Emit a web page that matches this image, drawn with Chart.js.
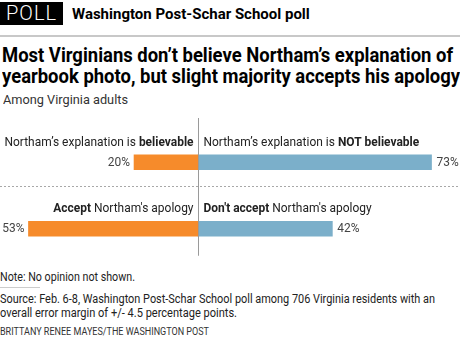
<!DOCTYPE html>
<html>
<head>
<meta charset="utf-8">
<script src="https://cdn.jsdelivr.net/npm/chart.js@4"></script>
<style>
  body { margin: 0; width: 460px; height: 338px; background: #fff; font-family: Roboto, sans-serif; color: #222; position: relative; overflow: hidden; }
  .abs { position: absolute; white-space: nowrap; }
  .line { display: block; transform-origin: 0 50%; width: max-content; }
  #poll { left: 0; top: 2px; width: 63px; height: 23px; background: #000; color: #fff; font-size: 20px; font-weight: 300; line-height: 23px; text-align: center; letter-spacing: 1px; }
  #kicker { left: 72px; top: 4px; font-size: 15px; font-weight: 700; color: #000; line-height: 20px; }
  #rule { left: 0; top: 35px; width: 460px; height: 2px; background: #c8c8c8; }
  #title { left: 2px; top: 45px; font-size: 20px; font-weight: 700; line-height: 21px; color: #000; }
  #sub { left: 3px; top: 90px; font-size: 13.5px; line-height: 18px; color: #333; }
  #chartBox { left: 0; top: 115px; width: 460px; height: 148px; }
  #note { left: 0; top: 269px; font-size: 12.5px; line-height: 16px; }
  #noteRule { left: 0; top: 287px; width: 40px; height: 1px; background: #ccc; }
  #source { left: 0; top: 292px; font-size: 12.5px; line-height: 14px; }
  #credit { left: 0; top: 325.5px; font-size: 10px; line-height: 12px; color: #333; }
</style>
</head>
<body>
<div class="abs" id="poll">POLL</div>
<div class="abs" id="kicker">Washington Post-Schar School poll</div>
<div class="abs" id="rule"></div>
<div class="abs" id="title"><span class="line" data-w="451">Most Virginians don’t believe Northam’s explanation of</span><span class="line" data-w="458">yearbook photo, but slight majority accepts his apology</span></div>
<div class="abs" id="sub"><span class="line" data-w="125">Among Virginia adults</span></div>
<div class="abs" id="chartBox"><canvas id="chart" width="460" height="148"></canvas></div>
<div class="abs" id="note"><span class="line" data-w="135">Note: No opinion not shown.</span></div>
<div class="abs" id="noteRule"></div>
<div class="abs" id="source"><span class="line" data-w="435">Source: Feb. 6-8, Washington Post-Schar School poll among 706 Virginia residents with an</span><span class="line" data-w="237">overall error margin of +/- 4.5 percentage points.</span></div>
<div class="abs" id="credit"><span class="line" data-w="209">BRITTANY RENEE MAYES/THE WASHINGTON POST</span></div>

<script>
// ==========================================
// DATA
// ==========================================

const questions = ['explanation', 'apology'];
const agreeValues = [20, 53];
const disagreeValues = [73, 42];

// label pieces: [text, bold?]
const agreeLabels = [
    [['Northam’s explanation is ', false], ['believable', true]],
    [['Accept', true], [' Northam\'s apology', false]]
];
const disagreeLabels = [
    [['Northam’s explanation is ', false], ['NOT believable', true]],
    [['Don\'t accept', true], [' Northam\'s apology', false]]
];

const xMin = -61.9;
const xMax = 81.9;

const ORANGE = '#F68B2B';
const BLUE = '#7BAFCA';
const FONT = 'Roboto, sans-serif';
const SQUEEZE = 0.92; // the original face is narrower than Roboto

// squeeze html text lines to the widths of the original face
document.querySelectorAll('.line[data-w]').forEach(el => {
    const w = el.getBoundingClientRect().width;
    el.style.transform = 'scaleX(' + (el.dataset.w / w) + ')';
});

// ==========================================
// LABEL PLUGIN
// ==========================================

const drawPieces = (ctx, pieces, x, y, align) => {
    const fonts = pieces.map(p => (p[1] ? 'bold ' : '') + '13px ' + FONT);
    const widths = pieces.map((p, i) => { ctx.font = fonts[i]; return ctx.measureText(p[0]).width; });
    const total = widths.reduce((a, b) => a + b, 0);
    ctx.save();
    ctx.translate(x, y);
    ctx.scale(SQUEEZE, 1);
    let cx = align === 'right' ? -total : 0;
    ctx.textAlign = 'left';
    pieces.forEach((p, i) => {
        ctx.font = fonts[i];
        ctx.fillText(p[0], cx, 0);
        cx += widths[i];
    });
    ctx.restore();
};

const labelPlugin = {
    id: 'labels',
    afterDatasetsDraw(chart) {
        const ctx = chart.ctx;
        const xs = chart.scales.x;
        const ys = chart.scales.y;
        const zero = Math.round(xs.getPixelForValue(0)) + 0.5;
        ctx.save();

        // center axis line
        ctx.strokeStyle = '#9a9a9a';
        ctx.lineWidth = 1;
        ctx.beginPath();
        ctx.moveTo(zero, 3);
        ctx.lineTo(zero, ys.getPixelForValue(1) + 27);
        ctx.stroke();

        // dotted separator
        const sepY = Math.round(ys.getPixelForValue(0) + 24) + 0.5;
        ctx.setLineDash([2, 2]);
        ctx.strokeStyle = '#a8a8a8';
        ctx.beginPath();
        ctx.moveTo(0, sepY);
        ctx.lineTo(chart.width, sepY);
        ctx.stroke();
        ctx.setLineDash([]);

        ctx.textBaseline = 'middle';
        questions.forEach((q, i) => {
            const yc = ys.getPixelForValue(i);
            ctx.fillStyle = '#222';
            drawPieces(ctx, agreeLabels[i], zero - 5, yc - 20, 'right');
            drawPieces(ctx, disagreeLabels[i], zero + 5, yc - 20, 'left');

            ctx.fillStyle = '#444';
            drawPieces(ctx, [[agreeValues[i] + '%', false]], xs.getPixelForValue(-agreeValues[i]) - 4, yc, 'right');
            drawPieces(ctx, [[disagreeValues[i] + '%', false]], xs.getPixelForValue(disagreeValues[i]) + 5, yc, 'left');
        });
        ctx.restore();
    }
};

// ==========================================
// CHART
// ==========================================

const ctx = document.getElementById('chart').getContext('2d');
const chart = new Chart(ctx, {
    type: 'bar',
    data: {
        labels: questions,
        datasets: [{
            label: 'Agree',
            data: agreeValues.map(v => -v),
            backgroundColor: ORANGE,
            barThickness: 15
        }, {
            label: 'Disagree',
            data: disagreeValues,
            backgroundColor: BLUE,
            barThickness: 15
        }]
    },
    options: {
        indexAxis: 'y',
        responsive: false,
        animation: false,
        layout: {
            padding: { top: 14, bottom: 1, left: 0, right: 0 }
        },
        plugins: {
            legend: { display: false },
            tooltip: { enabled: false }
        },
        scales: {
            x: { stacked: true, display: false, min: xMin, max: xMax },
            y: { stacked: true, display: false }
        }
    },
    plugins: [labelPlugin]
});
</script>
</body>
</html>
